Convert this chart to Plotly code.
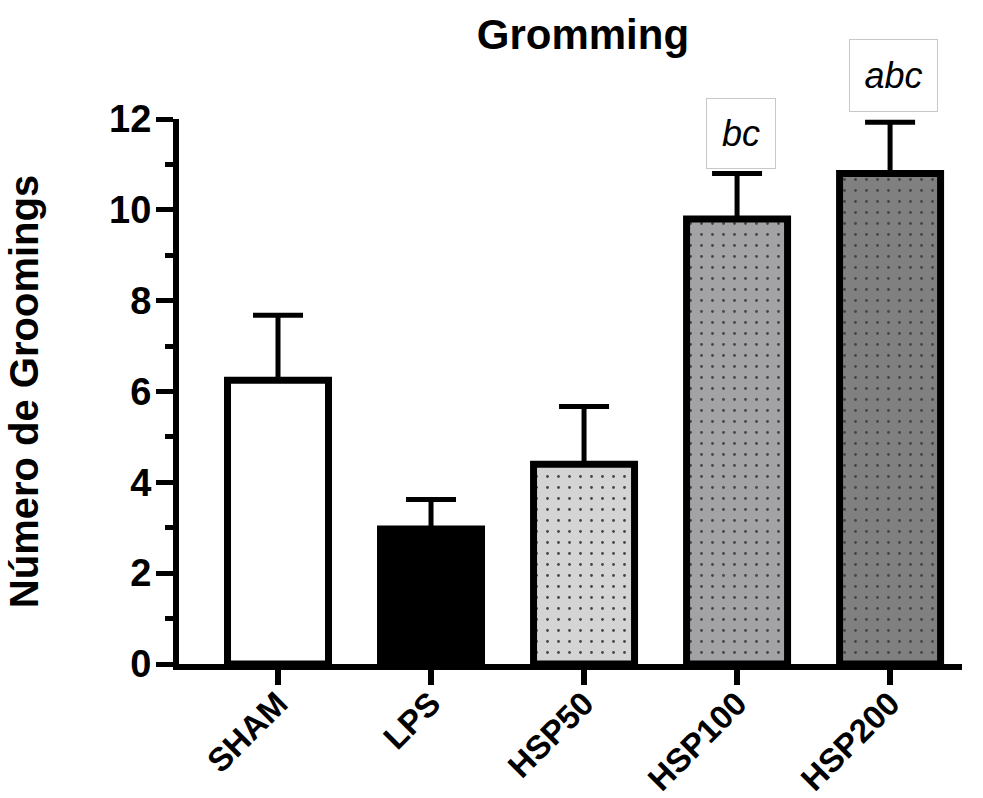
import plotly.graph_objects as go

categories = ["SHAM", "LPS", "HSP50", "HSP100", "HSP200"]
means = [6.25, 2.97, 4.40, 9.80, 10.80]
sem_up = [1.43, 0.65, 1.27, 1.00, 1.13]
fills = ["#ffffff", "#000000", "#d4d4d4", "#a3a3a6", "#808080"]
patterns = ["", "", ".", ".", "."]
sig_labels = ["", "", "", "bc", "abc"]
sig_y = [None, None, None, 11.67, 12.95]
Y_MAX = 12

FONT = "Arial, 'Liberation Sans', Helvetica, sans-serif"

fig = go.Figure()
fig.add_trace(go.Bar(
    x=list(range(len(categories))),
    y=means,
    width=0.66,
    marker=dict(
        color=fills,
        line=dict(color="black", width=7),
        pattern=dict(shape=patterns, fgcolor="black", bgcolor=fills,
                     size=11, solidity=0.05, fgopacity=1),
    ),
    error_y=dict(type="data", symmetric=False, array=sem_up,
                 arrayminus=[0] * len(means), color="black",
                 thickness=5, width=25),
    showlegend=False,
))

annotations = []
for i, (lab, yv) in enumerate(zip(sig_labels, sig_y)):
    if lab:
        annotations.append(dict(
            x=i, y=yv / Y_MAX, xref="x", yref="paper",
            xanchor="center", yanchor="middle",
            text="<i>" + lab + "</i>",
            showarrow=False, font=dict(family=FONT, size=36, color="black"),
            bgcolor="white", bordercolor="#c8c8c8", borderwidth=1,
            borderpad=0, width=68 if len(lab) == 2 else 87,
            height=69 if len(lab) == 2 else 71,
            xshift=4 if len(lab) == 2 else 3,
        ))

fig.update_layout(
    width=983, height=798,
    margin=dict(l=179, r=21, t=119, b=134),
    paper_bgcolor="white", plot_bgcolor="white",
    font=dict(family=FONT, color="black"),
    title=dict(text="<b>Gromming</b>", x=0.593, xanchor="center",
               y=0.957, yanchor="middle",
               font=dict(family=FONT, size=42, color="black")),
    annotations=annotations,
)
fig.update_xaxes(
    range=[-0.647, 4.47], tickmode="array",
    tickvals=list(range(len(categories))),
    ticktext=["<b>" + c + "</b>" for c in categories],
    tickangle=-45, tickfont=dict(family=FONT, size=33, color="black"),
    ticklabelstandoff=-14,
    showline=True, linecolor="black", linewidth=6,
    ticks="outside", ticklen=15, tickwidth=6, tickcolor="black",
    showgrid=False, zeroline=False, automargin=False,
)
fig.update_yaxes(
    range=[0, Y_MAX], tickmode="array", tickvals=[0, 2, 4, 6, 8, 10, 12],
    ticktext=["<b>%d</b>" % v for v in [0, 2, 4, 6, 8, 10, 12]],
    tickfont=dict(family=FONT, size=38, color="black"),
    ticklabelstandoff=-3,
    showline=True, linecolor="black", linewidth=6,
    ticks="outside", ticklen=17, tickwidth=5, tickcolor="black",
    minor=dict(tickvals=[1, 3, 5, 7, 9, 11], ticks="outside", ticklen=8,
               tickwidth=5, tickcolor="black"),
    showgrid=False, zeroline=False, automargin=False,
    title=dict(text="<b>Número de Groomings</b>",
               font=dict(family=FONT, size=40, color="black"), standoff=60),
)

fig.write_html("out.html")
